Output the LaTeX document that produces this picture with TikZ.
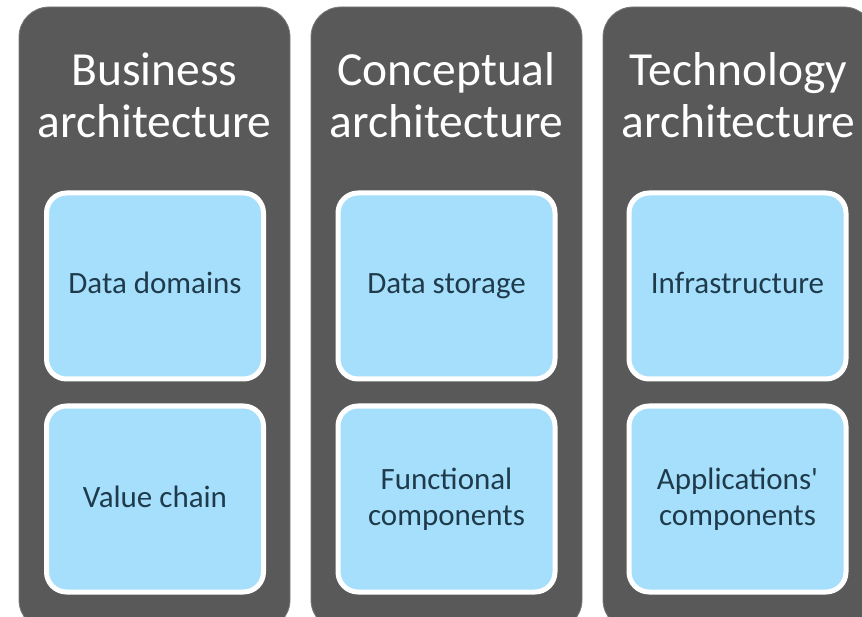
\documentclass[tikz,border=0pt]{standalone}
\usepackage{fontspec}
\setmainfont{Carlito}[Ligatures=TeXOff]
\definecolor{colgray}{HTML}{595959}
\definecolor{coledge}{HTML}{7A7A7A}
\definecolor{boxblue}{HTML}{A6DFFC}
\definecolor{boxtext}{HTML}{1F3B4B}
\tikzset{
  column/.style={fill=colgray, draw=coledge, line width=0.8pt, rounded corners=30pt},
  titletext/.style={text=white, font=\fontsize{47.5}{52}\selectfont, anchor=base, inner sep=0pt},
  itembox/.style={fill=boxblue, draw=white, line width=5pt, rounded corners=20pt,
    minimum width=217pt, minimum height=186pt, inner sep=0pt, align=center,
    text height=16pt, text depth=0pt,
    text=boxtext, font=\fontsize{31}{36}\selectfont},
  twolines/.style={text height=53pt},
}
\begin{document}
\begin{tikzpicture}[x=1pt,y=-1pt]
\useasboundingbox (0,0) rectangle (862,617);
\clip (0,0) rectangle (862,617);
\draw[column] (19,7) rectangle (290,630);
\draw[column] (311,7) rectangle (582,630);
\draw[column] (603,7) rectangle (874,630);
\node[titletext] (t1a) at (154.5,86) {Business};
\node[titletext] (t1b) at (154.5,138) {architecture};
\node[titletext] (t2a) at (446.5,86) {Conceptual};
\node[titletext] (t2b) at (446.5,138) {architecture};
\node[titletext] (t3a) at (738.5,86) {Technology};
\node[titletext] (t3b) at (738.5,138) {architecture};
\node[itembox] (b1a) at (155,286) {Data domains};
\node[itembox] (b1b) at (155,499) {Value chain};
\node[itembox] (b2a) at (446.5,286) {Data storage};
\node[itembox, twolines] (b2b) at (446.5,499) {Functional\\components};
\node[itembox] (b3a) at (737.5,286) {Infrastructure};
\node[itembox, twolines] (b3b) at (737.5,499) {Applications'\\components};
\end{tikzpicture}
\end{document}
